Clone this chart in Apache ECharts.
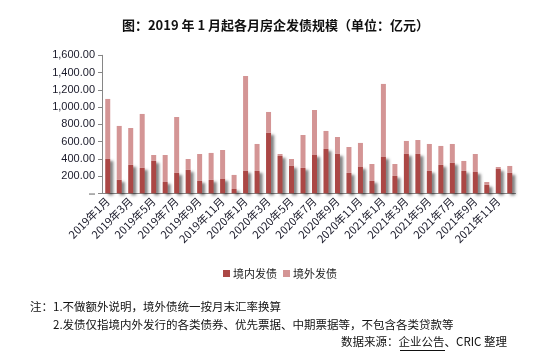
<!DOCTYPE html>
<html><head><meta charset="utf-8">
<script src="https://cdn.jsdelivr.net/npm/echarts@6/dist/echarts.min.js"></script>
<style>html,body{margin:0;padding:0;background:#fff;}#c{width:551px;height:360px;}</style>
</head><body><div id="c"></div>
<script>
const categories = [];
const years = [2019, 2020, 2021];
for (const y of years) for (let m = 1; m <= 12; m++) categories.push(y + '年' + m + '月');
const domestic = [398,155,329,294,375,131,236,271,143,155,166,50,
                  259,259,700,433,317,294,444,514,456,236,305,143,
                  421,201,456,456,259,329,352,259,247,97,282,236];
const overseas = [696,626,428,626,69,313,649,127,313,313,336,163,
                  1101,313,243,23,81,382,522,209,197,301,279,197,
                  847,139,151,162,313,220,220,116,209,34,23,81];
const seriesNames = ['境内发债', '境外发债'];
const title = '图：2019 年 1 月起各月房企发债规模（单位：亿元）';
const notes = ['注：1.不做额外说明，境外债统一按月末汇率换算',
               '2.发债仅指境内外发行的各类债券、优先票据、中期票据等，不包含各类贷款等'];
const source = '数据来源：企业公告、CRIC 整理';

const FONT = '"Liberation Sans", "Noto Sans CJK SC", sans-serif';
const CJK = '"Noto Sans CJK SC", sans-serif';
const chart = echarts.init(document.getElementById('c'));
chart.setOption({
  animation: false,
  backgroundColor: '#fff',
  textStyle: { fontFamily: FONT },
  title: { text: title, left: 'center', top: 14,
    textStyle: { fontSize: 13, fontWeight: 'bold', color: '#111', fontFamily: CJK } },
  legend: { data: seriesNames, left: 218, top: 263, itemWidth: 7, itemHeight: 7, itemGap: 6, icon: 'rect',
    textStyle: { fontSize: 11, color: '#222', fontFamily: CJK, padding: [0,0,0,-2] } },
  grid: { left: 102, right: 35.5, top: 55.3, bottom: 166.7, containLabel: false },
  xAxis: { type: 'category', data: categories, boundaryGap: true,
    axisLine: { lineStyle: { color: '#868686', width: 1 } },
    axisTick: { interval: 0, length: 4, lineStyle: { color: '#868686' } },
    axisLabel: { interval: 1, rotate: 45, fontSize: 11, color: '#1a1a2a', margin: 6, fontFamily: CJK } },
  yAxis: { type: 'value', min: 0, max: 1600, interval: 200,
    splitLine: { show: false },
    axisLine: { show: true, lineStyle: { color: '#868686' } },
    axisTick: { show: true, length: 4, lineStyle: { color: '#868686' } },
    axisLabel: { fontSize: 11, color: '#1a1a2a', margin: 7,
      formatter: v => v === 0 ? '{z|▬}' : v.toLocaleString('en-US', { minimumFractionDigits: 2, maximumFractionDigits: 2 }),
      rich: { z: { color: '#aaa', fontSize: 6 } } } },
  series: [
    { name: seriesNames[0], type: 'bar', stack: 's', data: domestic, barWidth: 5,
      itemStyle: { color: '#AB4745', shadowColor: 'rgba(0,0,0,0.5)', shadowBlur: 3, shadowOffsetX: 3, shadowOffsetY: 2 } },
    { name: seriesNames[1], type: 'bar', stack: 's', data: overseas, barWidth: 5,
      itemStyle: { color: '#D49595' } }
  ],
  graphic: [
    { type: 'text', left: 30, top: 301, style: { text: notes[0], fontSize: 11.5, fill: '#111', fontFamily: CJK } },
    { type: 'text', left: 53, top: 319, style: { text: notes[1], fontSize: 11.5, fill: '#111', fontFamily: CJK } },
    { type: 'text', right: 44, top: 336, style: { text: source, fontSize: 11.5, fill: '#111', fontFamily: CJK } },
    { type: 'line', shape: { x1: 400, y1: 350.5, x2: 445, y2: 350.5 }, style: { stroke: '#111', lineWidth: 1 } }
  ]
});
</script></body></html>
